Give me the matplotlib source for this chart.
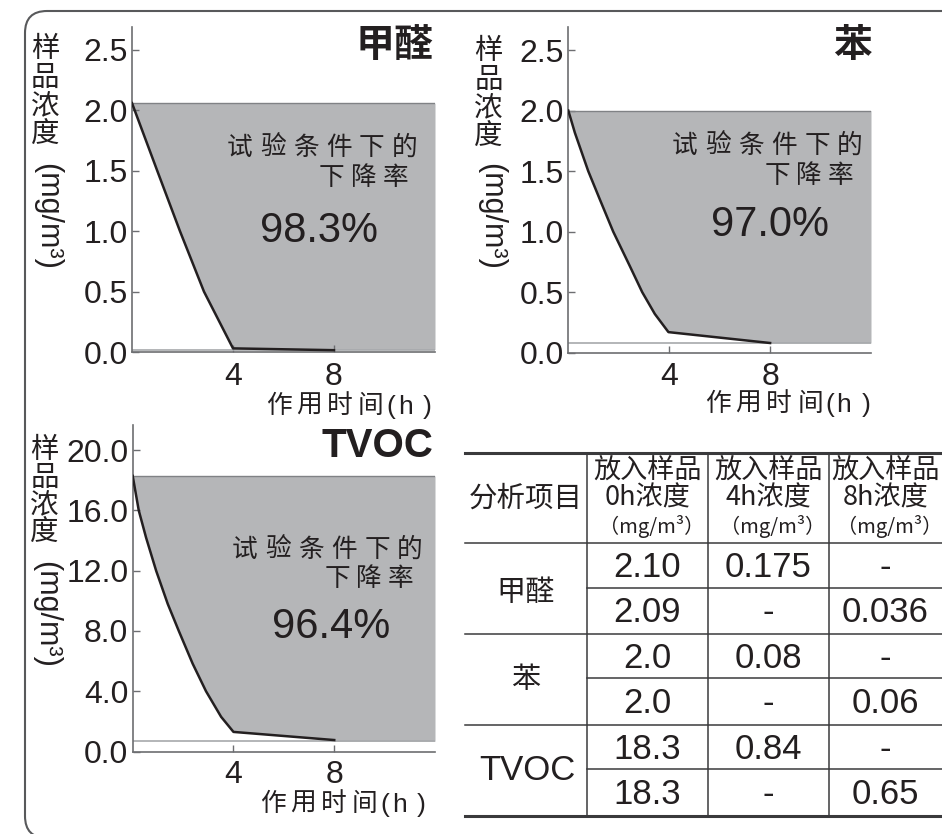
import matplotlib
matplotlib.use('Agg')
import matplotlib.pyplot as plt
from matplotlib.patches import FancyBboxPatch
from matplotlib.lines import Line2D
from matplotlib.transforms import IdentityTransform

# ---------------- data ----------------
panel_titles = ['甲醛', '苯', 'TVOC']
rates = ['98.3%', '97.0%', '96.4%']

hcho_t = [0, 1.0, 1.9, 2.85, 4, 8]
hcho_c = [2.06, 1.5, 1.0, 0.5, 0.03, 0.015]
hcho_floor = 0.02

benzene_t = [0, 0.26, 0.79, 1.25, 1.78, 2.44, 2.93, 3.43, 3.97, 8]
benzene_c = [2.0, 1.817, 1.5, 1.266, 1.0, 0.715, 0.5, 0.32, 0.17, 0.08]
benzene_floor = 0.08

tvoc_t = [0, 0.24, 0.53, 0.93, 1.39, 1.83, 2.38, 2.91, 3.51, 4, 8]
tvoc_c = [18.29, 16.0, 14.2, 12.0, 9.8, 8.0, 5.83, 4.0, 2.3, 1.3, 0.76]
tvoc_floor = 0.68

x_ticks = [4, 8]
small_yticks = [0.0, 0.5, 1.0, 1.5, 2.0, 2.5]
tvoc_yticks = [0.0, 4.0, 8.0, 12.0, 16.0, 20.0]

table_items = ['甲醛', '苯', 'TVOC']
header_times = ['0h', '4h', '8h']
col_0h = ['2.10', '2.09', '2.0', '2.0', '18.3', '18.3']
col_4h = ['0.175', '-', '0.08', '-', '0.84', '-']
col_8h = ['-', '0.036', '-', '0.06', '-', '0.65']

# ---------------- style ----------------
W, H = 942, 834
CJK = ['Noto Sans CJK SC', 'DejaVu Sans']
LAT = ['Liberation Sans', 'DejaVu Sans']
TXT = '#231f20'
GRAY = '#6d6e71'
FILL = '#b5b6b8'

fig = plt.figure(figsize=(W / 100, H / 100), dpi=100)
fig.patch.set_facecolor('white')


def T(x, y, s, **kw):
    kw.setdefault('color', TXT)
    return fig.text(x / W, 1 - y / H, s, **kw)


def spaced(x_right, y, s, pitch, size, glyph=24):
    n = len(s)
    for i, ch in enumerate(s):
        xc = x_right - glyph / 2 - (n - 1 - i) * pitch
        T(xc, y, ch, family=CJK, fontsize=size, ha='center', va='center')


# outer rounded frame (pixel coords)
frame = FancyBboxPatch((25, -4), 1000, 827, boxstyle='round,pad=0,rounding_size=22',
                       transform=IdentityTransform(), fill=False,
                       edgecolor='#58595b', linewidth=1.5)
fig.add_artist(frame)


def make_ax(x0, ytop, x1, ybot, t, c, floor, ylim_top, yticks, xpad):
    ax = fig.add_axes([x0 / W, 1 - ybot / H, (x1 - x0) / W, (ybot - ytop) / H])
    ax.set_facecolor('none')
    top = c[0]
    xs = list(t) + [t[-1], 12]
    lows = list(c) + [floor, floor]
    ax.fill_between(xs, lows, [top] * len(xs), color=FILL, linewidth=0, zorder=1)
    ax.hlines(top, 0, 12, color='#808285', linewidth=1.0, zorder=2)
    ax.hlines(floor, 0, 12, color='#a7a9ac', linewidth=1.2, zorder=2)
    ax.plot(t, c, color=TXT, linewidth=1.8, zorder=3)
    ax.set_xlim(0, 12)
    ax.set_ylim(0, ylim_top)
    ax.set_xticks(x_ticks)
    ax.set_xticklabels([str(v) for v in x_ticks])
    ax.set_yticks(yticks)
    ax.set_yticklabels(['%.1f' % v for v in yticks])
    for s in ['top', 'right']:
        ax.spines[s].set_visible(False)
    for s in ['left', 'bottom']:
        ax.spines[s].set_color(GRAY)
        ax.spines[s].set_linewidth(1.2)
    ax.tick_params(axis='both', direction='in', length=5, width=1, color=GRAY,
                   labelsize=23, labelcolor=TXT)
    ax.tick_params(axis='y', pad=3.2)
    ax.tick_params(axis='x', pad=xpad)
    for lab in ax.get_xticklabels() + ax.get_yticklabels():
        lab.set_family(LAT)
    return ax


make_ax(132, 27, 435, 352, hcho_t, hcho_c, hcho_floor, 2.69, small_yticks, 7)
make_ax(568.3, 27, 871, 352.7, benzene_t, benzene_c, benzene_floor, 2.69, small_yticks, 7)
make_ax(132.7, 425, 435, 751.5, tvoc_t, tvoc_c, tvoc_floor, 21.67, tvoc_yticks, 6)

# titles
T(433, 46, panel_titles[0], family=CJK, fontsize=28, fontweight='bold', ha='right', va='center')
T(872, 45, panel_titles[1], family=CJK, fontsize=28, fontweight='bold', ha='right', va='center')
T(433, 446, panel_titles[2], family=LAT, fontsize=29, fontweight='bold', ha='right', va='center')

# annotations inside panels
line1 = '试验条件下的'
line2 = '下降率'
for (r1, y1, r2, y2, px, py), rate in zip([(417, 148, 408, 178, 319, 231),
                                           (862, 146, 853, 176, 770, 225),
                                           (422, 550, 413, 579, 331, 627)], rates):
    spaced(r1, y1, line1, 33, 18.5)
    spaced(r2, y2, line2, 32, 18.5)
    T(px, py, rate, family=LAT, fontsize=30, ha='center', va='center')


# y labels (vertical)
def ylabel(xc, y_first, pitch, y_paren):
    for i, ch in enumerate('样品浓度'):
        T(xc, y_first + i * pitch, ch, family=CJK, fontsize=20.5, ha='center', va='center')
    T(xc + 2, y_paren, '(mg/m³)', family=LAT, fontsize=22, rotation=-90,
      rotation_mode='anchor', ha='center', va='center')


ylabel(45, 49, 28.7, 216)
ylabel(488.7, 51, 28.7, 216)
ylabel(44.5, 450, 27.5, 614)


# x labels
def xlabel(x_right, yc):
    for dx, ch in [(-41, '('), (-27, 'h'), (-5, ')')]:
        T(x_right + dx, yc + 1, ch, family=LAT, fontsize=19, ha='center', va='center')
    n = 4
    for i, ch in enumerate('作用时间'):
        T(x_right - 61 - (n - 1 - i) * 30.8, yc, ch, family=CJK, fontsize=18.5,
          ha='center', va='center')


xlabel(432, 406)
xlabel(871, 404)
xlabel(426, 804)

# ---------------- table ----------------
xl = [465, 586.7, 707.7, 828.7, 942]
yl = [452.7, 543.3, 587.7, 634, 678.3, 725, 769.3, 815.7]
LC = '#3a3a3c'


def hline(x0, x1, y, lw):
    fig.add_artist(Line2D([x0 / W, x1 / W], [1 - y / H, 1 - y / H], color=LC,
                          linewidth=lw, transform=fig.transFigure))


def vline(x, y0, y1, lw):
    fig.add_artist(Line2D([x / W, x / W], [1 - y0 / H, 1 - y1 / H], color=LC,
                          linewidth=lw, transform=fig.transFigure))


hline(xl[0], W + 5, yl[0], 2.2)
hline(xl[0], W + 5, yl[-1], 2.2)
for k, y in enumerate(yl[1:-1]):
    if k in (1, 3, 5):
        hline(xl[1], W + 5, y, 1.1)
    else:
        hline(xl[0], W + 5, y, 1.1)
for x in xl[1:4]:
    vline(x, yl[0], yl[-1], 1.1)

# header
T((xl[0] + xl[1]) / 2, 499, '分析项目', family=CJK, fontsize=20.5, ha='center', va='center')
for j, ht in enumerate(header_times):
    xc = (xl[j + 1] + xl[j + 2]) / 2
    T(xc, 470, '放入样品', family=CJK, fontsize=19.5, ha='center', va='center')
    T(xc, 498, ht + '浓度', family=CJK, fontsize=19.5, ha='center', va='center')
    T(xc + 4, 527, '（mg/m³）', family=CJK, fontsize=14.5, ha='center', va='center')

# item labels
item_dy = [4, 0, 0]
for i, it in enumerate(table_items):
    yc = (yl[1 + 2 * i] + yl[3 + 2 * i]) / 2 + item_dy[i]
    if it == 'TVOC':
        T(527, yc, it, family=LAT, fontsize=25, ha='center', va='center')
    else:
        T(526, yc, it, family=CJK, fontsize=21, ha='center', va='center')

# values
for j, col in enumerate([col_0h, col_4h, col_8h]):
    xc = (xl[j + 1] + xl[j + 2]) / 2
    for r, v in enumerate(col):
        yc = (yl[1 + r] + yl[2 + r]) / 2 + 2
        T(xc, yc, v, family=LAT, fontsize=25, ha='center', va='center')

fig.savefig('out.png', dpi=100, facecolor='white')
